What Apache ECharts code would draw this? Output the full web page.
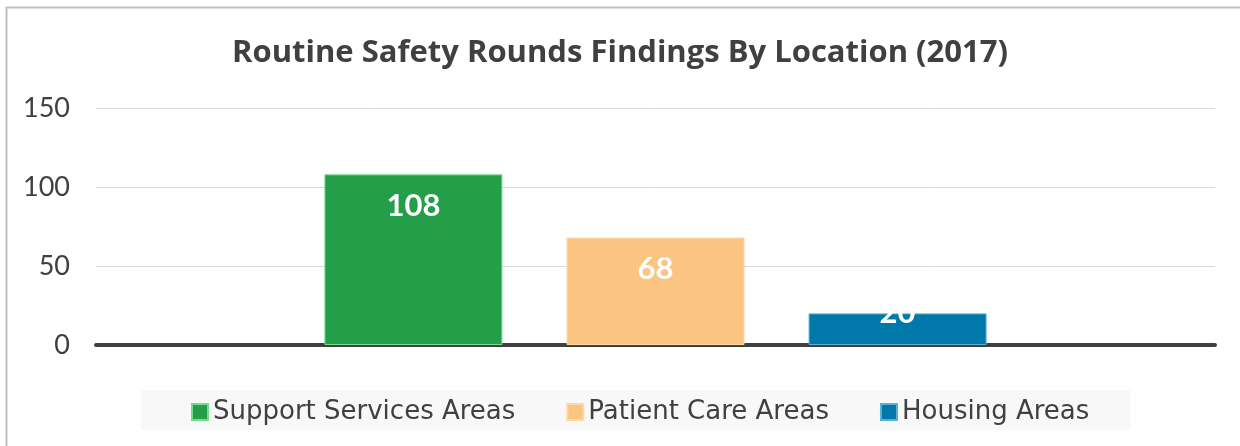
<!DOCTYPE html>
<html>
<head>
<meta charset="utf-8">
<script src="https://cdn.jsdelivr.net/npm/echarts@6/dist/echarts.min.js"></script>
<style>
html,body{margin:0;padding:0;background:#fff;}
#chart{width:1240px;height:446px;}
</style>
</head>
<body>
<div id="chart"></div>
<script>
const titleText = 'Routine Safety Rounds Findings By Location (2017)';
const categories = [''];
const seriesNames = ['Support Services Areas', 'Patient Care Areas', 'Housing Areas'];
const supportServices = [108];
const patientCare = [68];
const housing = [20];
const yTicks = [0, 50, 100, 150];

const colors = ['#259E4A', '#FAC580', '#0079AA'];
const borders = ['#74DB90', '#FCD8A6', '#5BB0D2'];
const values = [supportServices, patientCare, housing];

const chart = echarts.init(document.getElementById('chart'));
const font = 'Lato, "Open Sans", sans-serif';

const series = seriesNames.map((name, i) => ({
  name: name,
  type: 'bar',
  data: values[i],
  barWidth: 178,
  barGap: '36%',
  itemStyle: { color: colors[i], borderColor: borders[i], borderWidth: 1 },
  label: {
    show: true,
    position: 'insideTop',
    distance: 16,
    offset: i === 2 ? [0, -32] : [0, 0],
    color: '#ffffff',
    fontFamily: font,
    fontWeight: 'bold',
    fontSize: 31
  },
  emphasis: { disabled: true }
}));

chart.setOption({
  animation: false,
  backgroundColor: '#ffffff',
  title: {
    text: titleText,
    left: 'center',
    top: 33,
    textStyle: { fontFamily: '"Open Sans", sans-serif', fontWeight: 'bold', fontSize: 31, color: '#404040' }
  },
  legend: {
    data: seriesNames,
    left: 141,
    top: 390,
    backgroundColor: '#F8F8F8',
    padding: [8, 41, 4, 50],
    itemWidth: 16,
    itemHeight: 16,
    itemGap: 51,
    icon: 'rect',
    textStyle: { fontFamily: '"DejaVu Sans", sans-serif', fontSize: 26, color: '#404040', lineHeight: 28 }
  },
  grid: { left: 96, right: 25, top: 108, bottom: 101, containLabel: false },
  xAxis: {
    type: 'category',
    data: categories,
    axisLine: { show: true, lineStyle: { color: '#404040', width: 4 } },
    axisTick: { show: false },
    axisLabel: { show: false }
  },
  yAxis: {
    type: 'value',
    min: yTicks[0],
    max: yTicks[yTicks.length - 1],
    interval: 50,
    axisLine: { show: false },
    axisTick: { show: false },
    splitLine: { lineStyle: { color: '#D9D9D9', width: 1 } },
    axisLabel: { fontFamily: font, fontSize: 27, color: '#404040', margin: 26 }
  },
  graphic: [{
    type: 'rect',
    shape: { x: 6.5, y: 7.5, width: 1400, height: 600 },
    style: { fill: 'none', stroke: '#BFBFBF', lineWidth: 2 },
    silent: true
  }],
  series: series
});
</script>
</body>
</html>
